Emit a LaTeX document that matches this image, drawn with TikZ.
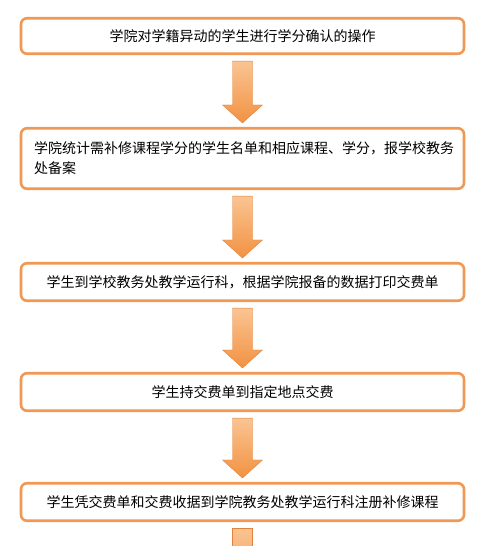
\documentclass[tikz,border=0pt]{standalone}
\usepackage{fontspec}
\newfontfamily\cjk{Noto Sans CJK SC}
\usetikzlibrary{calc}
\definecolor{boxor}{RGB}{240,152,84}
\definecolor{arrtop}{RGB}{250,196,146}
\definecolor{arrbot}{RGB}{242,146,66}
\definecolor{arredge}{RGB}{226,130,60}
\tikzset{
  stepbox/.style={draw=boxor, line width=2.6pt, rounded corners=6pt, fill=white,
    minimum width=443pt, inner sep=0pt, font=\cjk\fontsize{14pt}{20pt}\selectfont},
  arrowfill/.style={top color=arrtop, bottom color=arrbot, draw=arredge, line width=0.4pt}
}
\newcommand\blkarrow[2]{%
  \path[arrowfill] let \p1=(#1.south), \p2=(#2.north) in
    (\x1-10pt,\y1-6pt) -- (\x1+10pt,\y1-6pt) -- (\x1+10pt,\y2+22pt) --
    (\x1+20pt,\y2+22pt) -- (\x1,\y2+4pt) -- (\x1-20pt,\y2+22pt) --
    (\x1-10pt,\y2+22pt) -- cycle;}
\begin{document}
\begin{tikzpicture}[x=1pt,y=-1pt]
\useasboundingbox (0,0) rectangle (487,546);
\clip (0,0) rectangle (487,546);
\fill[white] (0,0) rectangle (487,546);
\node[stepbox, minimum height=35.5pt] (b1) at (242.5,36) {学院对学籍异动的学生进行学分确认的操作};
\node[stepbox, minimum height=60.5pt, align=left, text width=417pt] (b2) at (242.5,158.5)
  {学院统计需补修课程学分的学生名单和相应课程、学分，报学校教务\\处备案};
\node[stepbox, minimum height=37.5pt] (b3) at (242.5,282) {学生到学校教务处教学运行科，根据学院报备的数据打印交费单};
\node[stepbox, minimum height=37.5pt] (b4) at (242.5,392) {学生持交费单到指定地点交费};
\node[stepbox, minimum height=37.5pt] (b5) at (242.5,502) {学生凭交费单和交费收据到学院教务处教学运行科注册补修课程};
\blkarrow{b1}{b2}
\blkarrow{b2}{b3}
\blkarrow{b3}{b4}
\blkarrow{b4}{b5}
\coordinate (tail) at (242.5,600);
\path[arrowfill] let \p1=(b5.south), \p2=(tail) in
  (\x1-10pt,\y1-6pt) rectangle (\x1+10pt,\y2);
\end{tikzpicture}
\end{document}
